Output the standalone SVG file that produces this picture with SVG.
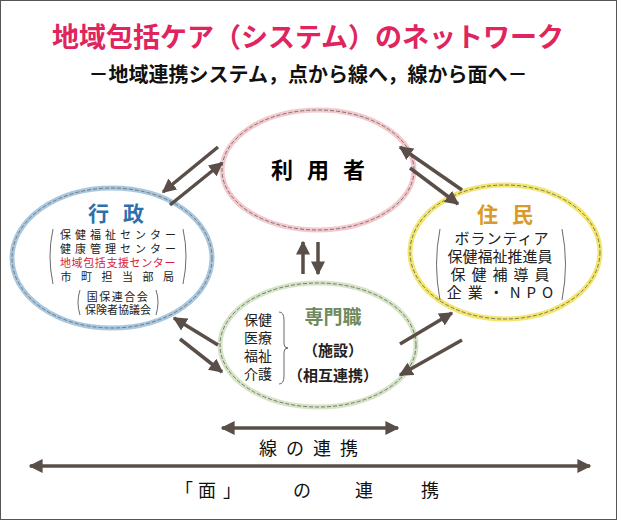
<svg xmlns="http://www.w3.org/2000/svg" width="617" height="520" viewBox="0 0 617 520">
<defs>
<marker id="ah" viewBox="0 0 10 10" refX="9" refY="5" markerWidth="4" markerHeight="4" orient="auto-start-reverse"><path d="M0,0 L10,5 L0,10 z" fill="#5a4f48"/></marker>
<style>
text{font-family:"Noto Sans CJK JP","Noto Sans CJK SC",sans-serif;}
.c{stroke:#5a4f48;stroke-width:3.5;fill:none;marker-end:url(#ah)}
.d{fill:none;stroke:#777;stroke-width:1;stroke-dasharray:4 2}
.s{font-size:11px;fill:#222;letter-spacing:4px}
.b{font-size:18px;fill:#111}
</style>
</defs>
<rect x="0.5" y="0.5" width="616" height="519" fill="#fff" stroke="#555"/>
<text x="308" y="47" text-anchor="middle" font-size="27" font-weight="bold" fill="#e0245e">地域包括ケア（システム）のネットワーク</text>
<text x="308" y="82" text-anchor="middle" font-size="20" font-weight="bold" fill="#111">－地域連携システム，点から線へ，線から面へ－</text>
<g id="riyousha">
<ellipse cx="318" cy="170" rx="96" ry="60" fill="#fff" stroke="#f4c8cc" stroke-width="5"/>
<ellipse cx="318" cy="170" rx="96" ry="60" class="d"/>
<text x="325" y="178" text-anchor="middle" font-size="22" font-weight="bold" letter-spacing="14">利用者</text>
</g>
<g id="gyosei">
<ellipse cx="112" cy="258" rx="100" ry="70" fill="#fff" stroke="#a9c8e0" stroke-width="5"/>
<ellipse cx="112" cy="258" rx="100" ry="70" class="d"/>
<text x="123" y="221" text-anchor="middle" font-size="21" font-weight="bold" fill="#2e6fae" letter-spacing="14">行政</text>
<text x="120" y="239" text-anchor="middle" class="s">保健福祉センター</text>
<text x="120" y="253" text-anchor="middle" class="s">健康管理センター</text>
<text x="118" y="267" text-anchor="middle" font-size="11" fill="#d81b3c" letter-spacing="0.6">地域包括支援センター</text>
<text x="122" y="281" text-anchor="middle" class="s" style="letter-spacing:9.5px">市町担当部局</text>
<text x="118" y="301" text-anchor="middle" font-size="11" fill="#222" letter-spacing="1.5">国保連合会</text>
<text x="118" y="314" text-anchor="middle" font-size="11" fill="#222">保険者協議会</text>
<path d="M53,229 Q47,256 53,284 M183,229 Q189,256 183,284 M80,290 Q76,302 80,315 M156,290 Q160,302 156,315" fill="none" stroke="#444" stroke-width="0.8"/>
</g>
<g id="jumin">
<ellipse cx="505" cy="252" rx="95" ry="67" fill="#fff" stroke="#f3e66a" stroke-width="5"/>
<ellipse cx="505" cy="252" rx="95" ry="67" class="d"/>
<text x="512" y="222" text-anchor="middle" font-size="21" font-weight="bold" fill="#d99a2a" letter-spacing="14">住民</text>
<text x="502" y="244" text-anchor="middle" font-size="15" fill="#222" letter-spacing="1">ボランティア</text>
<text x="500" y="262" text-anchor="middle" font-size="15" fill="#222">保健福祉推進員</text>
<text x="503" y="280" text-anchor="middle" font-size="15" fill="#222" letter-spacing="6">保健補導員</text>
<text x="503" y="298" text-anchor="middle" font-size="15" fill="#222" letter-spacing="6">企業・NPO</text>
<path d="M440,229 Q433,264 440,300 M562,229 Q569,264 562,300" fill="none" stroke="#444" stroke-width="0.8"/>
</g>
<g id="senmon">
<ellipse cx="318" cy="345" rx="98" ry="62" fill="#fff" stroke="#d6e4c6" stroke-width="5"/>
<ellipse cx="318" cy="345" rx="98" ry="62" class="d"/>
<text x="333" y="324" text-anchor="middle" font-size="19" font-weight="bold" fill="#6e8a5e">専門職</text>
<text x="258" y="325" text-anchor="middle" font-size="14" fill="#222">保健</text>
<text x="258" y="343" text-anchor="middle" font-size="14" fill="#222">医療</text>
<text x="258" y="361" text-anchor="middle" font-size="14" fill="#222">福祉</text>
<text x="258" y="379" text-anchor="middle" font-size="14" fill="#222">介護</text>
<path d="M279,312 Q284,312 284,320 L284,344 Q284,348 288,348 Q284,348 284,352 L284,376 Q284,384 279,384" fill="none" stroke="#444" stroke-width="0.8"/>
<text x="333" y="356" text-anchor="middle" font-size="15" font-weight="bold" fill="#222">（施設）</text>
<text x="333" y="381" text-anchor="middle" font-size="15" font-weight="bold" fill="#222">（相互連携）</text>
</g>
<g id="connectors">
<line class="c" x1="218" y1="147" x2="163" y2="192"/>
<line class="c" x1="170" y1="205" x2="222" y2="163"/>
<line class="c" x1="462" y1="190" x2="400" y2="147"/>
<line class="c" x1="410" y1="168" x2="458" y2="204"/>
<line class="c" x1="303" y1="274" x2="303" y2="242"/>
<line class="c" x1="318" y1="242" x2="318" y2="274"/>
<line class="c" x1="218" y1="345" x2="174" y2="318"/>
<line class="c" x1="180" y1="339" x2="222" y2="372"/>
<line class="c" x1="400" y1="344" x2="452" y2="313"/>
<line class="c" x1="462" y1="340" x2="400" y2="375"/>
<line class="c" x1="222" y1="428" x2="398" y2="428" style="marker-start:url(#ah)"/>
<line class="c" x1="30" y1="466" x2="590" y2="466" style="marker-start:url(#ah)"/>
</g>
<text x="313" y="455" text-anchor="middle" font-size="18" fill="#111" letter-spacing="9">線の連携</text>
<text x="184" y="497" text-anchor="middle" class="b">「</text>
<text x="207" y="497" text-anchor="middle" class="b">面</text>
<text x="232" y="497" text-anchor="middle" class="b">」</text>
<text x="302" y="497" text-anchor="middle" class="b">の</text>
<text x="364" y="497" text-anchor="middle" class="b">連</text>
<text x="430" y="497" text-anchor="middle" class="b">携</text>
</svg>
